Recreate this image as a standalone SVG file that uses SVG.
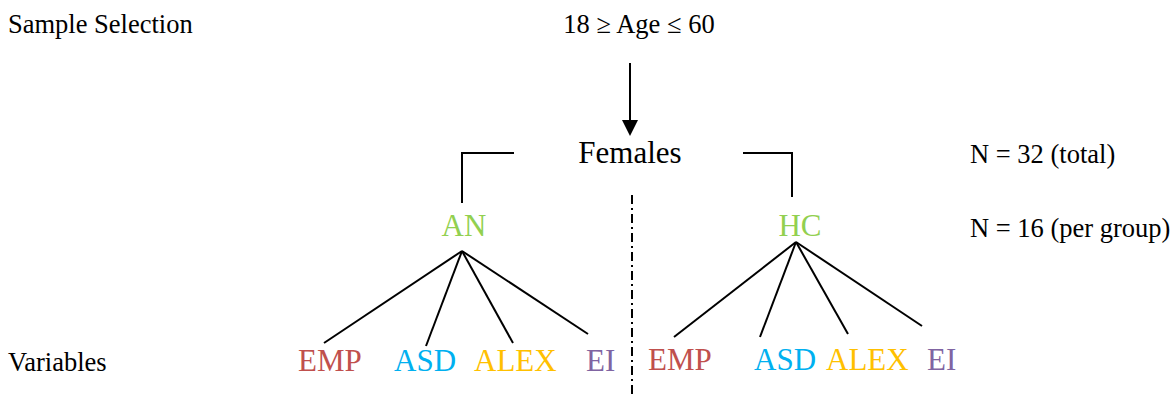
<svg xmlns="http://www.w3.org/2000/svg" width="1173" height="394" viewBox="0 0 1173 394">
<style>
text{font-family:"Liberation Serif","Times New Roman",serif;fill:#000}
.s{font-size:26.5px}
.b{font-size:31px}
.g{fill:#92D050}
.emp{fill:#C0504D}.asd{fill:#00B0F0}.alex{fill:#FFC000}.ei{fill:#8064A2}
.ln{stroke:#000;stroke-width:2;fill:none}
</style>
<defs>
<marker id="ah" markerWidth="8" markerHeight="8" refX="8" refY="4" orient="auto" markerUnits="userSpaceOnUse" viewBox="0 0 8 8">
<path d="M0,0 L8,4 L0,8 z" fill="#000"/>
</marker>
</defs>
<g id="labels">
<text class="s" x="8" y="33">Sample Selection</text>
<text class="s" x="8" y="371">Variables</text>
<text class="s" x="970" y="163">N = 32 (total)</text>
<text class="s" x="970" y="237">N = 16 (per group)</text>
</g>
<g id="connectors">
<line class="ln" x1="630" y1="63" x2="630" y2="120"/>
<path d="M622,120 L638,120 L630,136 z" fill="#000"/>
<polyline class="ln" points="514,153 462,153 462,203"/>
<polyline class="ln" points="743,153 792,153 792,197"/>
<line x1="632" y1="195" x2="632" y2="394" stroke="#000" stroke-width="2" stroke-dasharray="9 4 2 4"/>
<line class="ln" x1="462" y1="251" x2="324" y2="343"/>
<line class="ln" x1="462" y1="251" x2="426" y2="346"/>
<line class="ln" x1="462" y1="251" x2="513" y2="343"/>
<line class="ln" x1="462" y1="251" x2="588" y2="334"/>
<line class="ln" x1="796" y1="242" x2="674" y2="337"/>
<line class="ln" x1="796" y1="242" x2="760" y2="337"/>
<line class="ln" x1="796" y1="242" x2="848" y2="334"/>
<line class="ln" x1="796" y1="242" x2="922" y2="326"/>
</g>
<g id="age"><text class="s" x="639" y="33" text-anchor="middle">18 ≥ Age ≤ 60</text></g>
<g id="females"><text class="b" x="630" y="163" text-anchor="middle">Females</text></g>
<g id="an"><text class="b g" x="464" y="236" text-anchor="middle">AN</text></g>
<g id="hc"><text class="b g" x="800" y="236" text-anchor="middle">HC</text></g>
<g id="an-emp"><text class="b emp" x="298" y="371">EMP</text></g>
<g id="an-asd"><text class="b asd" x="394" y="371">ASD</text></g>
<g id="an-alex"><text class="b alex" x="474" y="371">ALEX</text></g>
<g id="an-ei"><text class="b ei" x="586" y="371">EI</text></g>
<g id="hc-emp"><text class="b emp" x="648" y="370">EMP</text></g>
<g id="hc-asd"><text class="b asd" x="754" y="370">ASD</text></g>
<g id="hc-alex"><text class="b alex" x="826" y="370">ALEX</text></g>
<g id="hc-ei"><text class="b ei" x="927" y="370">EI</text></g>
</svg>
